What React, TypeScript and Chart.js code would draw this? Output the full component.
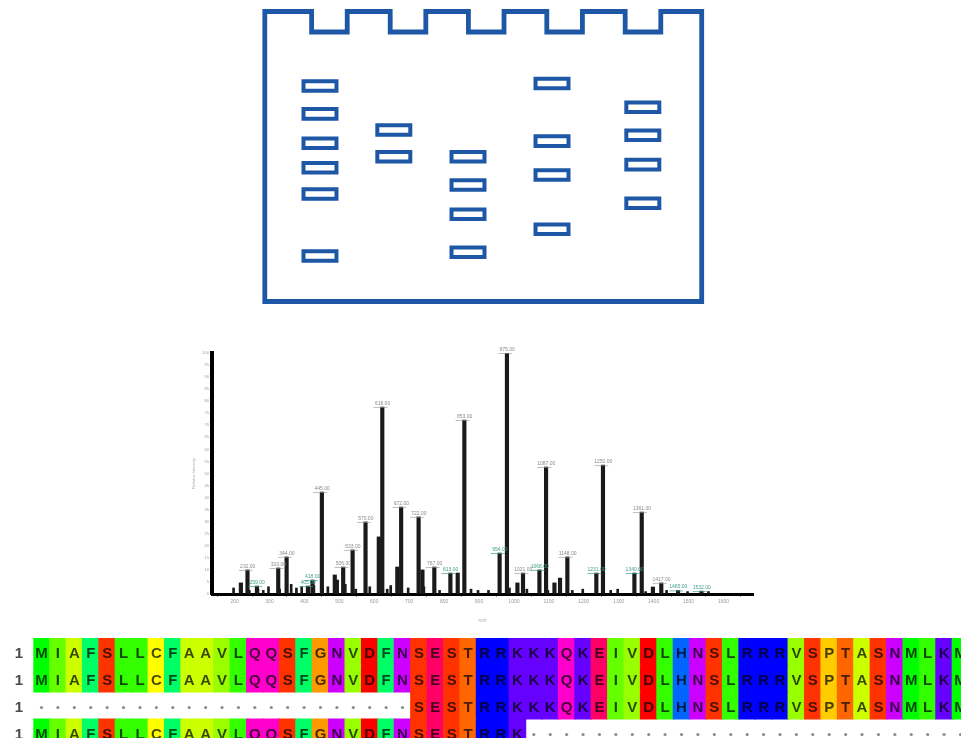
import React, { useEffect, useRef } from "react";
import { Chart, registerables } from "chart.js";
Chart.register(...registerables);

// ---------------- Gel (units: % of gel width / % of gel height) ----------------
const gelWellCenters = [14.79, 32.78, 50.68, 68.62, 86.56];
const gelWellWidth = 8.15;
const gelWellDepth = 7.07;
const bandLaneX = [12.63, 29.53, 46.51, 65.74, 86.52];
const bandLane1 = [25.7, 35.3, 45.4, 53.9, 62.9, 84.3];
const bandLane2 = [40.9, 50.1];
const bandLane3 = [50.1, 59.8, 69.9, 83.0];
const bandLane4 = [24.8, 44.7, 56.4, 75.1];
const bandLane5 = [33.0, 42.7, 52.8, 66.1];
const bandWidth = 7.55;
const bandHeight = 3.28;

// ---------------- Mass spectrum ----------------
const peakMz = [213, 232, 259, 320, 344, 405, 418, 445, 482, 488, 506, 533, 570, 608, 618, 661, 672, 722, 733, 767, 813, 834, 853, 954, 975, 1005, 1021, 1068, 1087, 1111, 1127, 1148, 1231, 1250, 1340, 1361, 1393, 1417, 1465, 1532];
const peakIntensity = [4.6, 10.0, 3.3, 10.8, 15.4, 3.3, 5.8, 42.3, 7.9, 5.8, 11.2, 18.3, 29.9, 23.7, 77.6, 11.2, 36.1, 32.0, 10.0, 11.2, 8.7, 8.7, 72.2, 17.0, 100, 4.6, 8.7, 10.0, 52.7, 4.6, 6.6, 15.4, 8.7, 53.5, 8.7, 34.0, 2.9, 4.6, 1.5, 1.2];
const peakLabelKind = [0, 1, 2, 1, 1, 2, 2, 1, 0, 0, 1, 1, 1, 0, 1, 0, 1, 1, 0, 1, 2, 0, 1, 2, 1, 0, 1, 2, 1, 0, 0, 1, 2, 1, 2, 1, 0, 1, 2, 2];
const noiseMz = [200, 222, 245, 270, 285, 300, 332, 365, 380, 395, 430, 455, 470, 520, 550, 590, 640, 650, 700, 745, 790, 880, 900, 930, 990, 1040, 1100, 1170, 1200, 1280, 1300, 1380, 1440, 1500, 1560];
const noiseIntensity = [2.5, 2.0, 1.5, 2.0, 1.5, 3.0, 2.0, 4.0, 2.5, 3.0, 3.5, 2.0, 3.0, 4.0, 2.0, 3.0, 2.0, 3.5, 2.5, 3.0, 1.5, 2.0, 1.5, 1.5, 2.5, 2.0, 1.5, 1.5, 2.0, 1.5, 2.0, 1.0, 1.5, 1.0, 1.0];
const mzMin = 187;
const mzMax = 1633;

// ---------------- Sequence alignment ----------------
const alignRows = [
  "MIAFSLLCFAAVLQQSFGNVDFNSESTRRKKKQKEIVDLHNSLRRRVSPTASNMLKM",
  "MIAFSLLCFAAVLQQSFGNVDFNSESTRRKKKQKEIVDLHNSLRRRVSPTASNMLKM",
  ".......................SESTRRKKKQKEIVDLHNSLRRRVSPTASNMLKM",
  "MIAFSLLCFAAVLQQSFGNVDFNSESTRRK...........................",
];
const rowStartLabels = ["1", "1", "1", "1"];

const taylor: Record<string, string> = {
  A: "#ccff00", R: "#0000ff", N: "#cc00ff", D: "#ff0000", C: "#ffff00",
  Q: "#ff00cc", E: "#ff0066", G: "#ff9900", H: "#0066ff", I: "#66ff00",
  L: "#33ff00", K: "#6600ff", M: "#00ff00", F: "#00ff66", P: "#ffcc00",
  S: "#ff3300", T: "#ff6600", W: "#00ccff", Y: "#00ffcc", V: "#99ff00",
};

const GEL_BLUE = "#1d57a5";
const FONT = "'Liberation Sans', Arial, sans-serif";

function GelChart() {
  const ref = useRef<HTMLCanvasElement>(null);
  useEffect(() => {
    const outline: { x: number; y: number }[] = [];
    const startX = (gelWellCenters[0] - gelWellWidth / 2) / 2;
    outline.push({ x: startX, y: 0 });
    gelWellCenters.forEach((c) => {
      outline.push({ x: c - gelWellWidth / 2, y: 0 });
      outline.push({ x: c - gelWellWidth / 2, y: gelWellDepth });
      outline.push({ x: c + gelWellWidth / 2, y: gelWellDepth });
      outline.push({ x: c + gelWellWidth / 2, y: 0 });
    });
    outline.push({ x: 100, y: 0 }, { x: 100, y: 100 }, { x: 0, y: 100 }, { x: 0, y: 0 }, { x: startX, y: 0 });

    const lanes = [bandLane1, bandLane2, bandLane3, bandLane4, bandLane5];
    const bandSets: any[] = [];
    lanes.forEach((lane, li) => {
      const cx = bandLaneX[li];
      lane.forEach((cy) => {
        const l = cx - bandWidth / 2, r = cx + bandWidth / 2;
        const t = cy - bandHeight / 2, b = cy + bandHeight / 2;
        bandSets.push({
          data: [{ x: cx, y: t }, { x: r, y: t }, { x: r, y: b }, { x: l, y: b }, { x: l, y: t }, { x: cx, y: t }],
          showLine: true, borderColor: GEL_BLUE, borderWidth: 4, pointRadius: 0,
          borderJoinStyle: "miter", tension: 0, clip: false,
        });
      });
    });

    const chart = new Chart(ref.current!, {
      type: "scatter",
      data: {
        datasets: [
          { data: outline, showLine: true, borderColor: GEL_BLUE, borderWidth: 4.8, pointRadius: 0, borderJoinStyle: "miter", tension: 0, clip: false } as any,
          ...bandSets,
        ],
      },
      options: {
        animation: false, responsive: false,
        layout: { padding: { left: 14.8, top: 11.5, right: 18.3, bottom: 13.5 } },
        plugins: { legend: { display: false }, tooltip: { enabled: false } },
        scales: {
          x: { type: "linear", min: 0, max: 100, display: false },
          y: { type: "linear", min: 0, max: 100, reverse: true, display: false },
        },
      },
    });
    return () => chart.destroy();
  }, []);
  return <canvas ref={ref} width={470} height={315} style={{ position: "absolute", left: 250, top: 0 }} />;
}

function SpectrumChart() {
  const ref = useRef<HTMLCanvasElement>(null);
  useEffect(() => {
    const labelPlugin = {
      id: "peakLabels",
      afterDatasetsDraw(chart: any) {
        const { ctx, scales } = chart;
        ctx.save();
        ctx.font = `5px ${FONT}`;
        ctx.textAlign = "center";
        ctx.textBaseline = "bottom";
        peakMz.forEach((mz, i) => {
          const kind = peakLabelKind[i];
          if (!kind) return;
          const x = scales.x.getPixelForValue(mz);
          const y = scales.y.getPixelForValue(peakIntensity[i]);
          ctx.fillStyle = kind === 2 ? "#3f9e88" : "#8a8a8a";
          ctx.strokeStyle = kind === 2 ? "rgba(63,158,136,0.7)" : "rgba(150,150,150,0.6)";
          ctx.fillText(mz.toFixed(2), x + 2, y - 1);
          ctx.lineWidth = 1;
          ctx.beginPath();
          ctx.moveTo(x - 7, y + 0.5);
          ctx.lineTo(x + 7, y + 0.5);
          ctx.stroke();
        });
        ctx.restore();
      },
    };
    const chart = new Chart(ref.current!, {
      type: "bar",
      data: {
        datasets: [
          {
            data: noiseMz.map((x, i) => ({ x, y: noiseIntensity[i] })),
            backgroundColor: "#1a1a1a", barThickness: 2, borderWidth: 0,
          } as any,
          {
            data: peakMz.map((x, i) => ({ x, y: peakIntensity[i] })),
            backgroundColor: "#1a1a1a", barThickness: 3.5, borderWidth: 0,
          } as any,
        ],
      },
      options: {
        animation: false, responsive: false,
        layout: { padding: { left: 0, top: 18, right: 17, bottom: 0 } },
        plugins: { legend: { display: false }, tooltip: { enabled: false } },
        scales: {
          x: {
            type: "linear", min: mzMin, max: mzMax,
            afterFit: (s: any) => { s.height = 31; },
            grid: { drawOnChartArea: false, drawTicks: true, tickLength: 3, color: "#999" },
            border: { display: true, color: "#000", width: 3 },
            ticks: { stepSize: 100, includeBounds: false, font: { size: 5, family: FONT }, color: "#9a9a9a", padding: 2, maxRotation: 0, callback: (v: any) => String(v) },
            title: { display: true, text: "m/z", font: { size: 5, family: FONT }, color: "#aaa", padding: 1 },
          } as any,
          y: {
            type: "linear", min: 0, max: 100,
            afterFit: (s: any) => { s.width = 22; },
            grid: { drawOnChartArea: false, drawTicks: true, tickLength: 2, color: "#999" },
            border: { display: true, color: "#000", width: 4 },
            ticks: { stepSize: 5, font: { size: 4, family: FONT }, color: "#9a9a9a", padding: 1 },
            title: { display: true, text: "Relative Intensity", font: { size: 4, family: FONT }, color: "#aaa", padding: 1 },
          } as any,
        },
      },
      plugins: [labelPlugin],
    });
    return () => chart.destroy();
  }, []);
  return <canvas ref={ref} width={580} height={290} style={{ position: "absolute", left: 190, top: 335 }} />;
}

function AlignmentChart() {
  const ref = useRef<HTMLCanvasElement>(null);
  useEffect(() => {
    const columns = alignRows[0].split("").map((_, i) => String(i + 1));
    const textPlugin = {
      id: "residues",
      afterDatasetsDraw(chart: any) {
        const { ctx, scales } = chart;
        ctx.save();
        ctx.textAlign = "center";
        ctx.textBaseline = "middle";
        alignRows.forEach((row, r) => {
          const cy = scales.y.getPixelForValue(r + 0.5) + 2;
          ctx.font = `bold 15px ${FONT}`;
          ctx.fillStyle = "#4a4a4a";
          ctx.fillText(rowStartLabels[r], 19, cy);
          row.split("").forEach((ch, c) => {
            const cx = scales.x.getPixelForValue(c);
            if (ch === ".") {
              ctx.fillStyle = "#8c8c8c";
              ctx.beginPath();
              ctx.arc(cx, cy, 1.6, 0, Math.PI * 2);
              ctx.fill();
            } else {
              ctx.font = `bold 15px ${FONT}`;
              ctx.fillStyle = "rgba(0,0,0,0.72)";
              ctx.fillText(ch, cx, cy);
            }
          });
        });
        ctx.restore();
      },
    };
    const chart = new Chart(ref.current!, {
      type: "bar",
      data: {
        labels: columns,
        datasets: alignRows.map((row, r) => ({
          data: row.split("").map((ch) => (ch === "." ? null : [r, r + 1])),
          backgroundColor: row.split("").map((ch) => taylor[ch] || "rgba(0,0,0,0)"),
          borderWidth: 0, grouped: false, barPercentage: 1, categoryPercentage: 1, inflateAmount: 0.6,
        })) as any,
      },
      options: {
        animation: false, responsive: false,
        layout: { padding: { left: 33.3, right: 31.3, top: 8, bottom: 14 } },
        plugins: { legend: { display: false }, tooltip: { enabled: false } },
        scales: {
          x: { type: "category", display: false, offset: true },
          y: { type: "linear", min: 0, max: 4, reverse: true, display: false },
        },
      },
      plugins: [textPlugin],
    });
    return () => chart.destroy();
  }, []);
  return <canvas ref={ref} width={1000} height={130} style={{ position: "absolute", left: 0, top: 630 }} />;
}

export default function App() {
  return (
    <div style={{ position: "absolute", left: 0, top: 0, width: 961, height: 738, overflow: "hidden", background: "#fff" }}>
      <GelChart />
      <SpectrumChart />
      <AlignmentChart />
    </div>
  );
}
